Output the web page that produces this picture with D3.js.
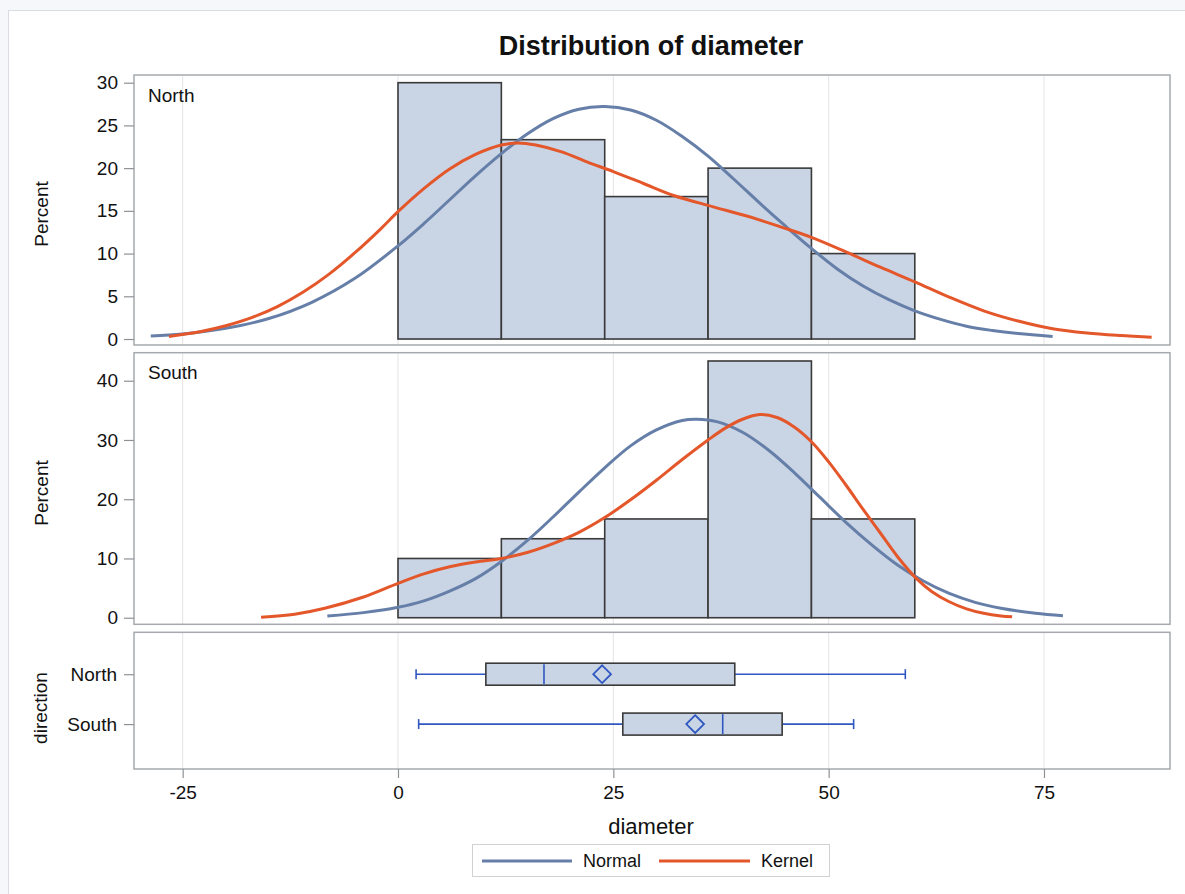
<!DOCTYPE html>
<html>
<head>
<meta charset="utf-8">
<script src="https://cdn.jsdelivr.net/npm/d3@7"></script>
<style>
  html, body { margin: 0; padding: 0; background: #f5f7fb; }
  text { font-family: "Liberation Sans", Arial, sans-serif; }
</style>
</head>
<body>
<div id="js-chart-container"></div>
<script>
// histogram bins (diameter) and percents per panel
const binLo = [0, 12, 24, 36, 48];
const binHi = [12, 24, 36, 48, 60];
const northPct = [30, 23.33, 16.67, 20, 10];
const southPct = [10, 13.33, 16.67, 43.33, 16.67];

// fitted curves
const northNormalX = [-28.7, -25, -20, -15, -10, -5, 0, 3, 6, 9, 12, 15, 18, 21, 24, 27, 30, 33, 36, 39, 42, 45, 48, 51, 54, 57, 60, 63, 66, 69, 72, 76.0];
const northNormalY = [0.35, 0.58, 1.25, 2.4, 4.3, 7.1, 10.9, 13.5, 16.3, 19.1, 21.7, 24.0, 25.8, 26.9, 27.2, 26.8, 25.6, 23.7, 21.4, 18.7, 15.9, 13.2, 10.6, 8.2, 6.2, 4.6, 3.3, 2.3, 1.5, 1.0, 0.64, 0.3];
const northKernelX = [-26.6, -23, -20, -17, -14, -11, -8, -5, -2, 0, 3, 6, 9, 12, 14, 16, 19, 22, 25, 28.5, 32, 36.5, 40.5, 44.5, 48, 52, 56, 60, 64, 68, 72, 76, 80, 84, 87.5];
const northKernelY = [0.3, 0.85, 1.55, 2.5, 3.8, 5.5, 7.6, 10.1, 12.9, 14.9, 17.6, 19.9, 21.6, 22.7, 22.95, 22.7, 21.9, 20.7, 19.6, 18.2, 16.8, 15.5, 14.4, 13.1, 11.9, 10.2, 8.4, 6.7, 4.9, 3.3, 2.1, 1.2, 0.7, 0.4, 0.2];
const southNormalX = [-8.2, -4, 0, 3, 6, 9, 12, 15, 18, 21, 24, 27, 30, 33, 34.7, 37, 40, 43, 46, 49, 52, 55, 58, 61, 64, 67, 70, 74, 77.2];
const southNormalY = [0.3, 0.86, 1.76, 2.85, 4.5, 6.6, 9.5, 13.0, 17.0, 21.2, 25.3, 29.0, 31.7, 33.3, 33.5, 33.1, 31.3, 28.3, 24.5, 20.3, 16.1, 12.3, 8.9, 6.2, 4.1, 2.6, 1.6, 0.76, 0.35];
const southKernelX = [-15.9, -12, -8.5, -4, 0, 3, 6, 9, 12, 15, 18, 21, 24, 27, 30, 33, 36, 38, 40, 42, 44, 46, 48, 50, 52, 54, 56, 58, 60.2, 62, 64, 66, 68, 70, 71.3];
const southKernelY = [0.1, 0.6, 1.6, 3.5, 5.8, 7.4, 8.6, 9.4, 10.0, 11.0, 12.5, 14.4, 16.9, 19.9, 23.2, 26.7, 30.0, 32.0, 33.5, 34.3, 33.8, 32.2, 29.7, 26.3, 22.4, 18.3, 14.3, 10.3, 6.6, 4.4, 2.7, 1.5, 0.75, 0.3, 0.15];

// box plot summary
const boxCats = ['North', 'South'];
const whiskerLo = [2.1, 2.4];
const q1 = [10.2, 26.1];
const median = [16.95, 37.7];
const mean = [23.7, 34.5];
const q3 = [39.1, 44.6];
const whiskerHi = [58.9, 52.9];

// tick labels
const xTicks = [-25, 0, 25, 50, 75];
const northTicks = [0, 5, 10, 15, 20, 25, 30];
const southTicks = [0, 10, 20, 30, 40];

const W = 1185, H = 894;
const barFill = '#c9d4e5';
const barStroke = '#3a3a3a';
const normalColor = '#667fa8';
const kernelColor = '#e4572a';
const boxBlue = '#2f57c0';
const frame = '#a6aaae';

const svg = d3.select('#js-chart-container')
  .append('svg')
  .attr('width', W)
  .attr('height', H)
  .style('display', 'block');

// page background + white card
svg.append('rect').attr('width', W).attr('height', H).attr('fill', '#f5f7fb');
svg.append('rect')
  .attr('x', 8.5).attr('y', 10.5)
  .attr('width', W).attr('height', H)
  .attr('fill', '#fff')
  .attr('stroke', '#d9dde3');

// Scales
const x = d3.scaleLinear().domain([-30.65, 89.63]).range([134, 1170]);
const p1 = { top: 75, bottom: 345 };
const p2 = { top: 352.7, bottom: 624.3 };
const p3 = { top: 632.3, bottom: 769 };
const yN = d3.scaleLinear().domain([-0.70, 30.9]).range([p1.bottom, p1.top]);
const yS = d3.scaleLinear().domain([-1.11, 44.73]).range([p2.bottom, p2.top]);
const yB = d3.scalePoint().domain(boxCats).range([p3.top - 1.5, p3.bottom - 1.5]).padding(0.87);
const plain = d => String(d);

// Title
svg.append('text')
  .attr('x', 651).attr('y', 55)
  .attr('text-anchor', 'middle')
  .attr('font-size', '27px')
  .attr('font-weight', 'bold')
  .attr('fill', '#111')
  .text('Distribution of diameter');

function panelFrame(p) {
  const g = svg.append('g');
  g.selectAll('line.grid')
    .data(xTicks)
    .enter()
    .append('line')
    .attr('class', 'grid')
    .attr('x1', d => x(d)).attr('x2', d => x(d))
    .attr('y1', p.top).attr('y2', p.bottom)
    .attr('stroke', '#e4e4e4')
    .attr('stroke-width', 1);
  return g;
}

function styleAxis(sel) {
  sel.select('.domain').remove();
  sel.selectAll('.tick line').attr('stroke', '#8e9296').attr('stroke-width', 1.2);
  sel.selectAll('.tick text')
    .attr('font-size', '19px')
    .attr('fill', '#111')
    .attr('font-family', '"Liberation Sans", Arial, sans-serif');
}

function histPanel(p, y, pct, ticks, nx, ny, kx, ky, label, labelY, pctY) {
  const g = panelFrame(p);

  // Bars
  g.selectAll('rect.bar')
    .data(pct)
    .enter()
    .append('rect')
    .attr('class', 'bar')
    .attr('x', (d, i) => x(binLo[i]))
    .attr('width', (d, i) => x(binHi[i]) - x(binLo[i]))
    .attr('y', d => y(d))
    .attr('height', d => y(0) - y(d))
    .attr('fill', barFill)
    .attr('stroke', barStroke)
    .attr('stroke-width', 1.6);

  const line = (xs, ys) => d3.line()
    .x(d => x(d))
    .y((d, i) => y(ys[i]))
    .curve(d3.curveCatmullRom.alpha(0.5))(xs);

  g.append('path')
    .attr('d', line(nx, ny))
    .attr('fill', 'none')
    .attr('stroke', normalColor)
    .attr('stroke-width', 3);
  g.append('path')
    .attr('d', line(kx, ky))
    .attr('fill', 'none')
    .attr('stroke', kernelColor)
    .attr('stroke-width', 3);

  // Frame
  svg.append('rect')
    .attr('x', x.range()[0]).attr('y', p.top)
    .attr('width', x.range()[1] - x.range()[0])
    .attr('height', p.bottom - p.top)
    .attr('fill', 'none')
    .attr('stroke', frame)
    .attr('stroke-width', 1.5);

  // Y axis
  const ax = svg.append('g')
    .attr('transform', 'translate(' + x.range()[0] + ',0)')
    .call(d3.axisLeft(y).tickValues(ticks).tickFormat(plain).tickSize(10).tickPadding(6));
  styleAxis(ax);

  svg.append('text')
    .attr('x', 148).attr('y', labelY)
    .attr('font-size', '19px')
    .attr('fill', '#111')
    .text(label);

  svg.append('text')
    .attr('transform', 'translate(48,' + pctY + ') rotate(-90)')
    .attr('text-anchor', 'middle')
    .attr('font-size', '19px')
    .attr('fill', '#111')
    .text('Percent');
}

histPanel(p1, yN, northPct, northTicks, northNormalX, northNormalY, northKernelX, northKernelY, 'North', 102, 214);
histPanel(p2, yS, southPct, southTicks, southNormalX, southNormalY, southKernelX, southKernelY, 'South', 379, 493);

// Box plot panel
const gb = panelFrame(p3);
const boxH = 22;
boxCats.forEach((c, i) => {
  const cy = yB(c);
  gb.append('line')
    .attr('x1', x(whiskerLo[i])).attr('x2', x(q1[i]))
    .attr('y1', cy).attr('y2', cy)
    .attr('stroke', boxBlue).attr('stroke-width', 1.6);
  gb.append('line')
    .attr('x1', x(q3[i])).attr('x2', x(whiskerHi[i]))
    .attr('y1', cy).attr('y2', cy)
    .attr('stroke', boxBlue).attr('stroke-width', 1.6);
  [whiskerLo[i], whiskerHi[i]].forEach(v => {
    gb.append('line')
      .attr('x1', x(v)).attr('x2', x(v))
      .attr('y1', cy - 5).attr('y2', cy + 5)
      .attr('stroke', boxBlue).attr('stroke-width', 1.6);
  });
  gb.append('rect')
    .attr('x', x(q1[i])).attr('y', cy - boxH / 2)
    .attr('width', x(q3[i]) - x(q1[i])).attr('height', boxH)
    .attr('fill', barFill)
    .attr('stroke', barStroke)
    .attr('stroke-width', 1.6);
  gb.append('line')
    .attr('x1', x(median[i])).attr('x2', x(median[i]))
    .attr('y1', cy - boxH / 2 + 1).attr('y2', cy + boxH / 2 - 1)
    .attr('stroke', boxBlue).attr('stroke-width', 1.6);
  gb.append('path')
    .attr('d', d3.symbol().type(d3.symbolDiamond2).size(200)())
    .attr('transform', 'translate(' + x(mean[i]) + ',' + cy + ')')
    .attr('fill', 'none')
    .attr('stroke', boxBlue)
    .attr('stroke-width', 1.8);
});

svg.append('rect')
  .attr('x', x.range()[0]).attr('y', p3.top)
  .attr('width', x.range()[1] - x.range()[0])
  .attr('height', p3.bottom - p3.top)
  .attr('fill', 'none')
  .attr('stroke', frame)
  .attr('stroke-width', 1.5);

const byAx = svg.append('g')
  .attr('transform', 'translate(' + x.range()[0] + ',0)')
  .call(d3.axisLeft(yB).tickSize(10).tickPadding(7));
styleAxis(byAx);

svg.append('text')
  .attr('transform', 'translate(47,708) rotate(-90)')
  .attr('text-anchor', 'middle')
  .attr('font-size', '19px')
  .attr('fill', '#111')
  .text('direction');

// X axis
const xAx = svg.append('g')
  .attr('transform', 'translate(0,' + p3.bottom + ')')
  .call(d3.axisBottom(x).tickValues(xTicks).tickFormat(plain).tickSize(9).tickPadding(8));
styleAxis(xAx);

svg.append('text')
  .attr('x', 651).attr('y', 834)
  .attr('text-anchor', 'middle')
  .attr('font-size', '22px')
  .attr('fill', '#111')
  .text('diameter');

// Legend
const legend = svg.append('g');
legend.append('rect')
  .attr('x', 472.5).attr('y', 844.5)
  .attr('width', 357).attr('height', 32)
  .attr('fill', '#fff')
  .attr('stroke', '#d2d2d2');
const legendItems = [
  { name: 'Normal', color: normalColor, x0: 482, x1: 572, tx: 583 },
  { name: 'Kernel', color: kernelColor, x0: 659, x1: 750, tx: 761 }
];
legendItems.forEach(d => {
  legend.append('line')
    .attr('x1', d.x0).attr('x2', d.x1)
    .attr('y1', 861).attr('y2', 861)
    .attr('stroke', d.color)
    .attr('stroke-width', 3);
  legend.append('text')
    .attr('x', d.tx).attr('y', 867)
    .attr('font-size', '18px')
    .attr('fill', '#111')
    .text(d.name);
});
</script>
</body>
</html>
